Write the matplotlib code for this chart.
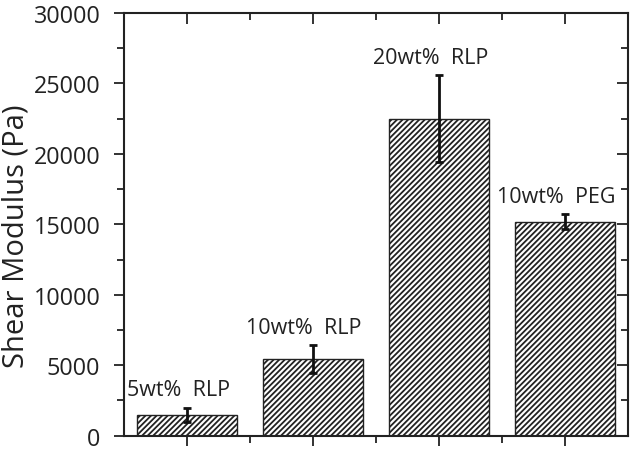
import matplotlib
matplotlib.use("Agg")
import matplotlib.pyplot as plt
import numpy as np

plt.rcParams['font.family'] = ['Open Sans', 'DejaVu Sans']
plt.rcParams['hatch.linewidth'] = 1.3
plt.rcParams['hatch.color'] = '#222222'

labels = ["5wt%  RLP", "10wt%  RLP", "20wt%  RLP", "10wt%  PEG"]
moduli = [1500, 5450, 22500, 15200]
errors = [500, 970, 3100, 540]
yticks = [0, 5000, 10000, 15000, 20000, 25000, 30000]

fig = plt.figure(figsize=(6.3, 4.52), dpi=100)
ax = fig.add_axes([124/630, 1 - 436.7/452, (628-124)/630, (436.7-14)/452])

x = np.arange(1, len(moduli) + 1)
ax.bar(x, moduli, width=0.8, color='white', edgecolor='#222222', linewidth=1.0,
       hatch='//////', zorder=2)
ax.errorbar(x, moduli, yerr=errors, fmt='none', ecolor='#111111', elinewidth=2.0,
            capsize=3, capthick=2.0, zorder=3)

for xi, m, e, lab in zip(x, moduli, errors, labels):
    ax.text(xi - 0.07, m + e + 1250, lab, ha='center', va='center',
            fontsize=15.5, color='#222222')

ax.set_xlim(0.5, 4.5)
ax.set_ylim(0, 30000)
ax.set_xticks(x)
ax.set_xticks([1.5, 2.5, 3.5], minor=True)
ax.set_xticklabels([])
ax.set_yticks(yticks)
ax.set_yticks(np.arange(2500, 30000, 5000), minor=True)
ax.set_yticklabels([str(t) for t in yticks], fontsize=16.8, color='#222222')
ax.set_ylabel("Shear Modulus (Pa)", fontsize=21, color='#222222')
ax.yaxis.set_label_coords((31 - 124) / 504, (436.7 - 236) / 422.7)

for s in ax.spines.values():
    s.set_linewidth(1.5)
    s.set_color('#222222')

ax.tick_params(which='major', direction='out', length=7, width=1.3, color='#222222', pad=10)
ax.tick_params(which='minor', direction='out', length=5, width=1.3, color='#222222')

# inward ticks on top and right
axt = ax.secondary_xaxis('top')
axt.set_xticks(x)
axt.set_xticks([1.5, 2.5, 3.5], minor=True)
axt.set_xticklabels([])
axt.tick_params(which='major', direction='in', length=8, width=1.3, color='#222222')
axt.tick_params(which='minor', direction='in', length=5, width=1.3, color='#222222')
axt.spines['top'].set_visible(False)

axr = ax.secondary_yaxis('right')
axr.set_yticks(yticks)
axr.set_yticks(np.arange(2500, 30000, 5000), minor=True)
axr.set_yticklabels([])
axr.tick_params(which='major', direction='in', length=8, width=1.3, color='#222222')
axr.tick_params(which='minor', direction='in', length=5, width=1.3, color='#222222')
axr.spines['right'].set_visible(False)

fig.savefig("out.png", dpi=100)
